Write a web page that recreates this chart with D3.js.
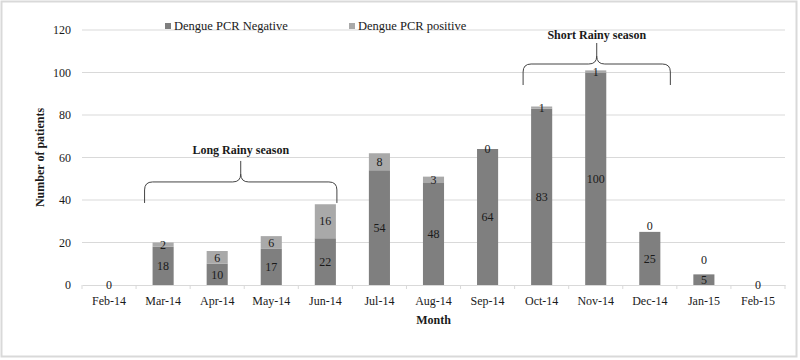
<!DOCTYPE html>
<html>
<head>
<meta charset="utf-8">
<script src="https://cdn.jsdelivr.net/npm/d3@7"></script>
<style>
  body { margin: 0; background: #fff; }
  svg text { font-family: "Liberation Serif", "Times New Roman", serif !important; fill: #1a1a1a; }
</style>
</head>
<body>
<div id="chart"></div>
<script>
'use strict';

// Data
const months = ["Feb-14", "Mar-14", "Apr-14", "May-14", "Jun-14", "Jul-14", "Aug-14",
                "Sep-14", "Oct-14", "Nov-14", "Dec-14", "Jan-15", "Feb-15"];
const pcrNegative = [0, 18, 10, 17, 22, 54, 48, 64, 83, 100, 25, 5, 0];
const pcrPositive = [0, 2, 6, 6, 16, 8, 3, 0, 1, 1, 0, 0, 0];
const yTicks = [0, 20, 40, 60, 80, 100, 120];
const seriesNames = ["Dengue PCR Negative", "Dengue PCR positive"];
const seasons = [
    { label: "Long Rainy season", from: "Mar-14", to: "Jun-14", level: 48.5 },
    { label: "Short Rainy season", from: "Oct-14", to: "Dec-14", level: 104 }
];

(function() {
    const W = 800, H = 360;
    const margin = { left: 82, right: 15, top: 30, bottom: 75 };
    const width = W - margin.left - margin.right,
          height = H - margin.top - margin.bottom;

    const svg = d3.select("#chart").append("svg")
        .attr("width", W).attr("height", H);

    // outer frame
    svg.append("rect")
        .attr("x", 1.5).attr("y", 1.5)
        .attr("width", W - 5).attr("height", H - 5)
        .attr("fill", "none").attr("stroke", "#d9d9d9").attr("stroke-width", 2);

    const g = svg.append("g")
        .attr("transform", "translate(" + margin.left + "," + margin.top + ")");

    const x = d3.scaleBand().domain(months).range([0, width]).paddingInner(0.61).paddingOuter(0.305);
    const y = d3.scaleLinear().domain([0, 120]).range([height, 0]);
    const step = x.step();

    // gridlines
    g.selectAll(".grid").data(yTicks.filter(d => d > 0)).enter()
        .append("line")
        .attr("x1", 0).attr("x2", width)
        .attr("y1", d => y(d)).attr("y2", d => y(d))
        .attr("stroke", "#d9d9d9").attr("stroke-width", 1);

    // Y axis labels
    const yAxis = g.append("g").call(d3.axisLeft(y).tickValues(yTicks).tickSize(0).tickPadding(11));
    yAxis.select(".domain").remove();
    yAxis.selectAll("text").attr("font-size", "12px");

    // X axis
    const xAxis = g.append("g").attr("transform", "translate(0," + height + ")")
        .call(d3.axisBottom(x).tickSize(0).tickPadding(11));
    xAxis.select(".domain").attr("stroke", "#d9d9d9");
    xAxis.selectAll("text").attr("font-size", "12px");
    g.selectAll(".xtick").data(d3.range(months.length + 1)).enter()
        .append("line")
        .attr("x1", d => d * step).attr("x2", d => d * step)
        .attr("y1", height).attr("y2", height + 4)
        .attr("stroke", "#d9d9d9");

    // stacked bars
    const rows = months.map((m, i) => ({ month: m, neg: pcrNegative[i], pos: pcrPositive[i] }));
    const stacked = d3.stack().keys(["neg", "pos"])(rows);
    const colors = ["#7f7f7f", "#a9a9a9"];

    stacked.forEach(function(layer, li) {
        g.selectAll(".bar" + li).data(layer).enter()
            .append("rect")
            .attr("x", d => x(d.data.month))
            .attr("width", x.bandwidth())
            .attr("y", d => y(d[1]))
            .attr("height", d => y(d[0]) - y(d[1]))
            .attr("fill", colors[li]);
    });

    // labels: centred in each segment; zero-height top segments nudged a little
    const zeroNudge = { "Dec-14": -6, "Jan-15": -15 };
    stacked.forEach(function(layer, li) {
        // skip the top label where it would sit exactly on an empty bar's own label
        const items = layer.filter(d => !(li === 1 && d[1] === 0));
        g.selectAll(".lab" + li).data(items).enter()
            .append("text")
            .attr("x", d => x(d.data.month) + x.bandwidth() / 2)
            .attr("y", function(d) {
                let cy = (y(d[0]) + y(d[1])) / 2;
                if (li === 1 && d[1] === d[0] && zeroNudge[d.data.month]) cy += zeroNudge[d.data.month];
                return cy;
            })
            .attr("dy", "0.35em")
            .attr("text-anchor", "middle")
            .attr("font-size", "12px")
            .text(d => d[1] - d[0]);
    });

    // axis titles
    g.append("text")
        .attr("x", width / 2).attr("y", height + 39)
        .attr("text-anchor", "middle")
        .attr("font-size", "12px").attr("font-weight", "bold")
        .text("Month");

    g.append("text")
        .attr("transform", "rotate(-90)")
        .attr("x", -height / 2).attr("y", -38)
        .attr("text-anchor", "middle")
        .attr("font-size", "12px").attr("font-weight", "bold")
        .text("Number of patients");

    // legend
    const legend = svg.append("g");
    const legendX = [165, 349];
    seriesNames.forEach(function(name, i) {
        legend.append("rect")
            .attr("x", legendX[i]).attr("y", 23)
            .attr("width", 6).attr("height", 6)
            .attr("fill", colors[i]);
        legend.append("text")
            .attr("x", legendX[i] + 9).attr("y", 26)
            .attr("dy", "0.35em")
            .attr("font-size", "12.5px")
            .text(name);
    });

    // season braces
    function bracePath(x1, x2, yh, drop, tip) {
        const xm = (x1 + x2) / 2, r = 8;
        return "M" + x1 + "," + (yh + drop) +
            " L" + x1 + "," + (yh + r) +
            " Q" + x1 + "," + yh + " " + (x1 + r) + "," + yh +
            " L" + (xm - r) + "," + yh +
            " Q" + xm + "," + yh + " " + xm + "," + (yh - r) +
            " L" + xm + "," + (yh - tip) +
            " M" + xm + "," + (yh - r) +
            " Q" + xm + "," + yh + " " + (xm + r) + "," + yh +
            " L" + (x2 - r) + "," + yh +
            " Q" + x2 + "," + yh + " " + x2 + "," + (yh + r) +
            " L" + x2 + "," + (yh + drop);
    }

    seasons.forEach(function(s, i) {
        const x1 = x(s.from) - 8;
        const x2 = x(s.to) + x.bandwidth() + (i === 1 ? 10 : 1);
        const yh = y(s.level);
        g.append("path")
            .attr("d", bracePath(x1, x2, yh, 21, 21))
            .attr("fill", "none").attr("stroke", "#444").attr("stroke-width", 1);
        g.append("text")
            .attr("x", (x1 + x2) / 2).attr("y", yh - (i === 1 ? 29 : 32))
            .attr("dy", "0.35em")
            .attr("text-anchor", "middle")
            .attr("font-size", "12px").attr("font-weight", "bold")
            .text(s.label);
    });
})();
</script>
</body>
</html>
